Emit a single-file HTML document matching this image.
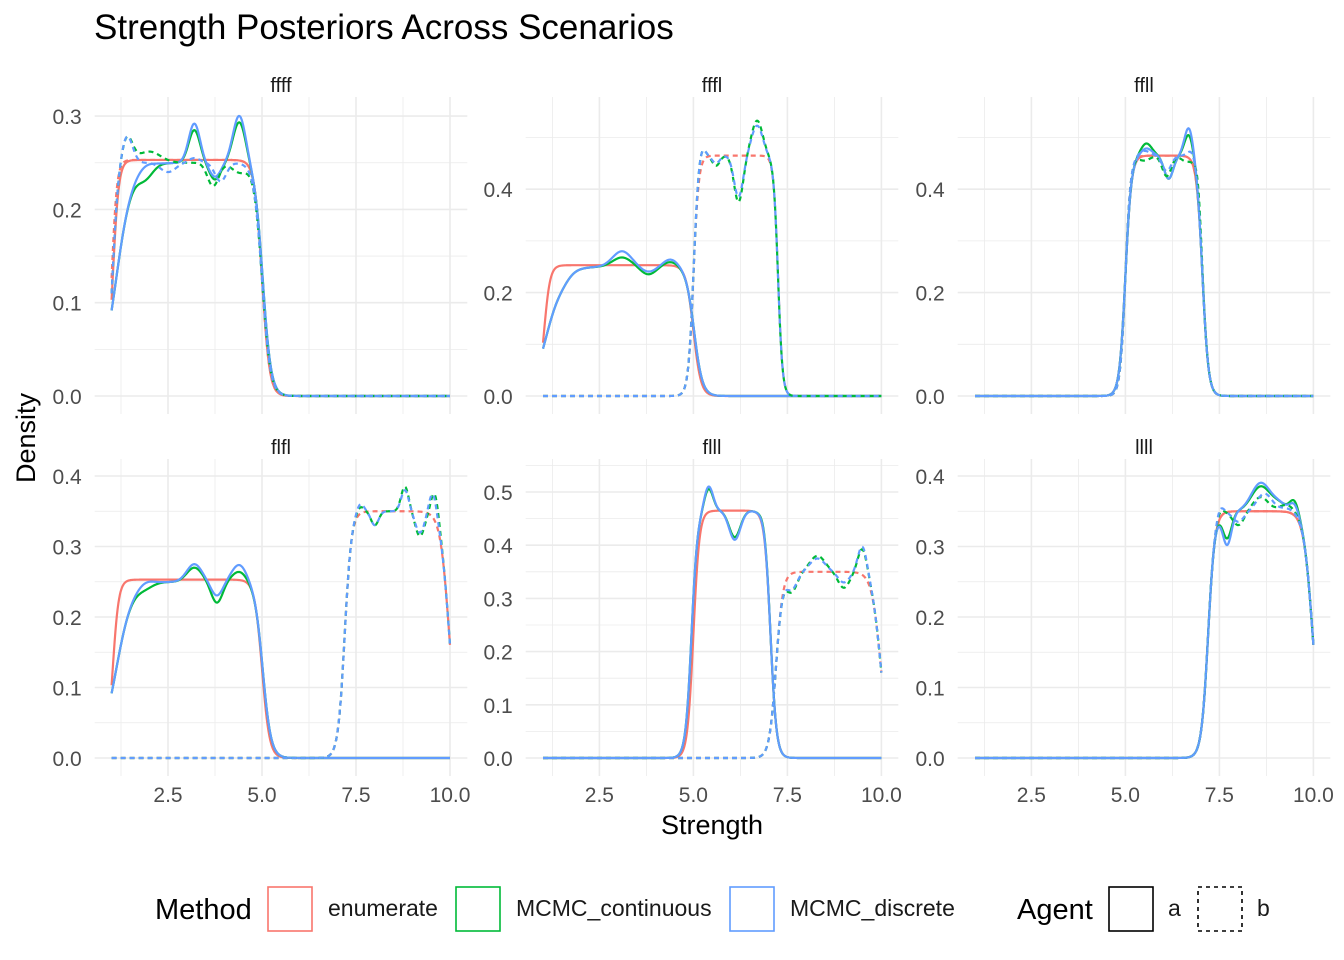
<!DOCTYPE html>
<html><head><meta charset="utf-8">
<style>
html,body{margin:0;padding:0;background:#fff;}
svg{display:block;font-family:"Liberation Sans",Arial,sans-serif;}
</style></head>
<body>
<svg id="s" width="1344" height="960" viewBox="0 0 1344 960" xmlns="http://www.w3.org/2000/svg">
<rect width="1344" height="960" fill="#fff"/>
<g id="grid"></g>
<g id="curves"></g>
<text x="94" y="39" font-size="35" fill="#000">Strength Posteriors Across Scenarios</text>
<g font-size="20" fill="#1a1a1a" text-anchor="middle">
<text x="281" y="92">ffff</text>
<text x="712" y="92">fffl</text>
<text x="1144" y="92">ffll</text>
<text x="281" y="454">flfl</text>
<text x="712" y="454">flll</text>
<text x="1144" y="454">llll</text>
</g>
<g id="ticks" font-size="21" fill="#4d4d4d"></g>
<text x="712" y="834" font-size="27" text-anchor="middle" fill="#000">Strength</text>
<text x="0" y="0" font-size="27" text-anchor="middle" fill="#000" transform="translate(35,438) rotate(-90)">Density</text>
<g font-size="29" fill="#000"><text x="155" y="919">Method</text><text x="1017" y="919">Agent</text></g>
<g font-size="23" fill="#1a1a1a">
<text x="328" y="916">enumerate</text><text x="516" y="916">MCMC_continuous</text><text x="790" y="916">MCMC_discrete</text>
<text x="1168" y="916">a</text><text x="1257" y="916">b</text>
</g>
<g fill="none" stroke-width="1.6">
<rect x="268" y="887" width="44" height="44" stroke="#F8766D"/>
<rect x="456" y="887" width="44" height="44" stroke="#00BA38"/>
<rect x="730" y="887" width="44" height="44" stroke="#619CFF"/>
<rect x="1109" y="887" width="44" height="44" stroke="#000"/>
<rect x="1198" y="887" width="44" height="44" stroke="#000" stroke-dasharray="4,4"/>
</g>
</svg>
<script>
const NS="http://www.w3.org/2000/svg";
function el(p,t,a,txt){const e=document.createElementNS(NS,t);for(const k in a)e.setAttribute(k,a[k]);if(txt!==undefined)e.textContent=txt;p.appendChild(e);return e;}
const grid=document.getElementById('grid'),cur=document.getElementById('curves'),tk=document.getElementById('ticks');
const U=37.6;
const cols=[{x1:111.6,l:94.7,r:467.3},{x1:543,l:525.7,r:898.3},{x1:975,l:957.7,r:1330.3}];
const rows=[{top:97,bot:414},{top:459,bot:776}];
const P=[
 {c:0,r:0,y0:396,k:933,ticks:[0,0.1,0.2,0.3],step:0.1},
 {c:1,r:0,y0:396,k:517,ticks:[0,0.2,0.4],step:0.2},
 {c:2,r:0,y0:396,k:517,ticks:[0,0.2,0.4],step:0.2},
 {c:0,r:1,y0:758,k:705,ticks:[0,0.1,0.2,0.3,0.4],step:0.1},
 {c:1,r:1,y0:758,k:532,ticks:[0,0.1,0.2,0.3,0.4,0.5],step:0.1},
 {c:2,r:1,y0:758,k:705,ticks:[0,0.1,0.2,0.3,0.4],step:0.1},
];
const sig=z=>1/(1+Math.exp(-z));
function base(h,l,r,wl,wr){return x=>h*sig((x-l)/wl)*sig((r-x)/wr);}
function bumps(list){return x=>{let s=0;for(const [m,a,w] of list)s+=a*Math.exp(-((x-m)*(x-m))/(2*w*w));return s;};}
function comb(b,bm,l,r){return x=>{const v=b(x);return v<=0?0:v+bm(x)*sig((x-l)/0.15)*sig((r-x)/0.15);};}
const red="#F8766D",grn="#00BA38",blu="#619CFF";
const lowA=base(0.253,1.03,5.0,0.08,0.1);
const lowAm=base(0.25,1.12,5.02,0.22,0.11);
const midA=base(0.465,5.0,7.05,0.08,0.08);
const highB=base(0.35,7.2,9.98,0.09,0.12);
const S={
0:[
 [lowA,red,0],[base(0.253,1.0,5.0,0.07,0.1),red,1],
 [comb(lowAm,bumps([[1.9,-0.012,0.2],[3.2,0.035,0.15],[3.75,-0.018,0.15],[4.4,0.045,0.17]]),1,5),grn,0],
 [comb(lowAm,bumps([[1.9,0.003,0.2],[3.2,0.042,0.15],[3.75,-0.015,0.15],[4.4,0.052,0.17]]),1,5),blu,0],
 [comb(base(0.25,1.02,5.0,0.08,0.11),bumps([[1.4,0.03,0.15],[2.0,0.012,0.3],[3.7,-0.025,0.15],[4.4,-0.01,0.2]]),1,5),grn,1],
 [comb(base(0.25,1.02,5.0,0.08,0.11),bumps([[1.4,0.032,0.15],[2.5,-0.01,0.2],[3.2,0.005,0.15],[3.9,-0.02,0.15]]),1,5),blu,1],
],
1:[
 [lowA,red,0],[base(0.465,5.0,7.25,0.07,0.06),red,1],
 [comb(lowAm,bumps([[1.5,-0.01,0.2],[3.1,0.018,0.25],[3.8,-0.015,0.2],[4.4,0.01,0.2]]),1,5),grn,0],
 [comb(lowAm,bumps([[1.5,-0.01,0.2],[3.1,0.03,0.25],[3.8,-0.01,0.2],[4.4,0.015,0.2]]),1,5),blu,0],
 [comb(base(0.465,5.0,7.25,0.07,0.06),bumps([[5.2,0.03,0.1],[5.6,-0.02,0.1],[6.2,-0.09,0.12],[6.7,0.07,0.15]]),5,7.2),grn,1],
 [comb(base(0.465,5.0,7.25,0.07,0.06),bumps([[5.2,0.03,0.1],[5.6,-0.015,0.1],[6.2,-0.08,0.12],[6.7,0.06,0.15]]),5,7.2),blu,1],
],
2:[
 [midA,red,0],[base(0.465,5.0,7.05,0.07,0.08),red,1],
 [comb(midA,bumps([[5.55,0.025,0.15],[6.15,-0.045,0.12],[6.7,0.05,0.12]]),5.1,7),grn,0],
 [comb(midA,bumps([[5.55,0.015,0.15],[6.15,-0.045,0.12],[6.7,0.065,0.12]]),5.1,7),blu,0],
 [comb(base(0.465,5.0,7.05,0.07,0.08),bumps([[5.5,-0.01,0.15],[6.1,-0.04,0.12],[6.6,-0.01,0.12],[6.95,0.04,0.08]]),5.1,7.1),grn,1],
 [comb(base(0.465,5.0,7.05,0.07,0.08),bumps([[5.5,0.01,0.15],[6.1,-0.03,0.12],[6.8,0.02,0.12]]),5.1,7.1),blu,1],
],
3:[
 [lowA,red,0],[highB,red,1],
 [comb(lowAm,bumps([[1.9,-0.005,0.2],[3.2,0.02,0.2],[3.8,-0.03,0.15],[4.4,0.015,0.2]]),1,5),grn,0],
 [comb(lowAm,bumps([[1.9,0.005,0.2],[3.2,0.025,0.2],[3.8,-0.02,0.15],[4.4,0.025,0.2]]),1,5),blu,0],
 [comb(highB,bumps([[7.6,0.01,0.1],[8.0,-0.02,0.1],[8.8,0.035,0.1],[9.2,-0.035,0.12],[9.6,0.04,0.1]]),7.3,10),grn,1],
 [comb(highB,bumps([[7.6,0.015,0.1],[8.0,-0.02,0.1],[8.8,0.03,0.1],[9.2,-0.03,0.12],[9.55,0.035,0.1]]),7.3,10),blu,1],
],
4:[
 [midA,red,0],[highB,red,1],
 [comb(base(0.465,4.95,7.05,0.08,0.08),bumps([[5.4,0.045,0.12],[6.1,-0.05,0.15],[6.9,0.01,0.1]]),5,7),grn,0],
 [comb(base(0.465,4.95,7.05,0.08,0.08),bumps([[5.4,0.05,0.12],[6.1,-0.055,0.15],[6.9,0.005,0.1]]),5,7),blu,0],
 [comb(highB,bumps([[7.6,-0.04,0.15],[8.3,0.03,0.2],[9.0,-0.03,0.15],[9.5,0.05,0.12]]),7.3,10),grn,1],
 [comb(highB,bumps([[7.6,-0.035,0.15],[8.3,0.025,0.2],[9.0,-0.02,0.15],[9.5,0.055,0.12]]),7.3,10),blu,1],
],
5:[
 [highB,red,0],[highB,red,1],
 [comb(highB,bumps([[7.7,-0.04,0.12],[8.6,0.035,0.25],[9.1,0.01,0.2],[9.5,0.02,0.12]]),7.3,10),grn,0],
 [comb(highB,bumps([[7.7,-0.05,0.12],[8.6,0.04,0.25],[9.1,0.01,0.2],[9.5,0.015,0.12]]),7.3,10),blu,0],
 [comb(highB,bumps([[7.5,0.01,0.1],[8.0,-0.02,0.15],[8.6,0.02,0.2],[9.3,0.01,0.2]]),7.3,10),grn,1],
 [comb(highB,bumps([[7.5,0.015,0.1],[8.0,-0.015,0.15],[8.7,0.025,0.2],[9.3,0.005,0.2]]),7.3,10),blu,1],
],
};
P.forEach((p,i)=>{
 const c=cols[p.c],r=rows[p.r];
 const X=x=>c.x1+(x-1)*U, Y=v=>p.y0-v*p.k;
 [1.25,3.75,6.25,8.75].forEach(v=>el(grid,'line',{x1:X(v),x2:X(v),y1:r.top,y2:r.bot,stroke:'#ebebeb','stroke-width':0.8}));
 for(let v=p.step/2; Y(v)>r.top; v+=p.step) el(grid,'line',{x1:c.l,x2:c.r,y1:Y(v),y2:Y(v),stroke:'#ebebeb','stroke-width':0.8});
 [2.5,5,7.5,10].forEach(v=>el(grid,'line',{x1:X(v),x2:X(v),y1:r.top,y2:r.bot,stroke:'#ebebeb','stroke-width':1.6}));
 p.ticks.forEach(v=>{el(grid,'line',{x1:c.l,x2:c.r,y1:Y(v),y2:Y(v),stroke:'#ebebeb','stroke-width':1.6});
   el(tk,'text',{x:c.l-13,y:Y(v)+8,'text-anchor':'end'},v.toFixed(1));});
 if(p.r===1)[2.5,5,7.5,10].forEach(v=>el(tk,'text',{x:X(v),y:802,'text-anchor':'middle'},v.toFixed(1)));
 S[i].forEach(([f,col,dash])=>{
  let d='';for(let k=0;k<=450;k++){const x=1+9*k/450;const v=Math.max(0,f(x));d+=(k?'L':'M')+X(x).toFixed(2)+','+Y(v).toFixed(2);}
  const a={d:d,fill:'none',stroke:col,'stroke-width':2.2,'stroke-linejoin':'round'};
  if(dash)a['stroke-dasharray']='5,4';
  el(cur,'path',a);
 });
});
</script>
</body></html>
